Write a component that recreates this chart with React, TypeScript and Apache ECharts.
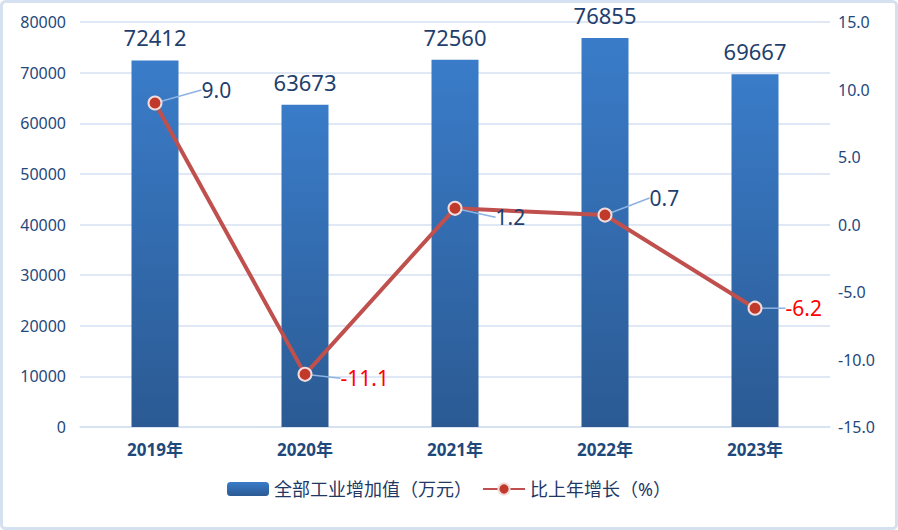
import React, { useEffect, useRef } from "react";
import * as echarts from "echarts";

const years = ["2019年", "2020年", "2021年", "2022年", "2023年"];
const addedValue = [72412, 63673, 72560, 76855, 69667];
const growth = [9.0, -11.1, 1.2, 0.7, -6.2];
const labelShift = [
  [28, -13],
  [17, 4],
  [22, 9],
  [26, -17],
  [12, 0],
];

const FONT = "'Noto Sans', 'Noto Sans CJK SC', sans-serif";
const NAVY = "#1F497D";

export default function App() {
  const chartRef = useRef<HTMLDivElement>(null);

  useEffect(() => {
    document.body.style.margin = "0";
    if (!chartRef.current) return;
    const chart = echarts.init(chartRef.current, null, { renderer: "svg" });

    chart.setOption({
      animation: false,
      textStyle: { fontFamily: FONT },
      graphic: [
        {
          type: "rect",
          shape: { x: 1.5, y: 1.5, width: 895, height: 527, r: 4 },
          style: { fill: "none", stroke: "#D5E1F1", lineWidth: 3 },
          silent: true,
        },
      ],
      grid: { left: 80, right: 68, top: 22, bottom: 103 },
      legend: {
        bottom: 27,
        left: "center",
        itemWidth: 42,
        itemHeight: 14,
        itemGap: 10,
        textStyle: { fontSize: 18, color: "#1F3864", fontFamily: FONT },
        data: ["全部工业增加值（万元）", "比上年增长（%）"],
      },
      xAxis: {
        type: "category",
        data: years,
        axisTick: { show: false },
        axisLine: { lineStyle: { color: "#D5E1F1", width: 1.5 } },
        axisLabel: {
          color: NAVY,
          fontSize: 17,
          fontWeight: "bold",
          margin: 14,
        },
      },
      yAxis: [
        {
          type: "value",
          min: 0,
          max: 80000,
          interval: 10000,
          axisLine: { show: false },
          axisTick: { show: false },
          splitLine: { lineStyle: { color: "#D5E1F1", width: 1.5 } },
          axisLabel: {
            color: NAVY,
            fontSize: 16,
            margin: 14,
            formatter: (v: number) => String(v),
          },
        },
        {
          type: "value",
          min: -15,
          max: 15,
          interval: 5,
          axisLine: { show: false },
          axisTick: { show: false },
          splitLine: { show: false },
          axisLabel: {
            color: NAVY,
            fontSize: 16,
            margin: 8,
            formatter: (v: number) => v.toFixed(1),
          },
        },
      ],
      series: [
        {
          name: "全部工业增加值（万元）",
          type: "bar",
          data: addedValue,
          barWidth: 47,
          itemStyle: {
            color: new echarts.graphic.LinearGradient(0, 0, 0, 1, [
              { offset: 0, color: "#3A7CC9" },
              { offset: 1, color: "#2B5A93" },
            ]),
          },
          label: {
            show: true,
            position: "top",
            distance: 12,
            fontSize: 22,
            color: "#1F3F6E",
          },
        },
        {
          name: "比上年增长（%）",
          type: "line",
          yAxisIndex: 1,
          data: growth.map((v) => ({
            value: v,
            label: { color: v < 0 ? "#FF0000" : "#1F3F6E" },
          })),
          lineStyle: { color: "#C0504D", width: 4 },
          itemStyle: { color: "#C0392B", borderColor: "#F2DCDB", borderWidth: 2 },
          symbol: "circle",
          symbolSize: 13,
          z: 5,
          label: {
            show: true,
            position: "right",
            fontSize: 21,
            padding: [0, 0, 0, 6],
            formatter: (p: any) => Number(p.value).toFixed(1),
          },
          labelLine: {
            show: true,
            lineStyle: { color: "#8DB3E2", width: 1.5 },
          },
          labelLayout: (p: any) => ({
            dx: labelShift[p.dataIndex][0],
            dy: labelShift[p.dataIndex][1],
          }),
        },
      ],
    });

    return () => {
      chart.dispose();
    };
  }, []);

  return <div ref={chartRef} style={{ width: 898, height: 530 }} />;
}
